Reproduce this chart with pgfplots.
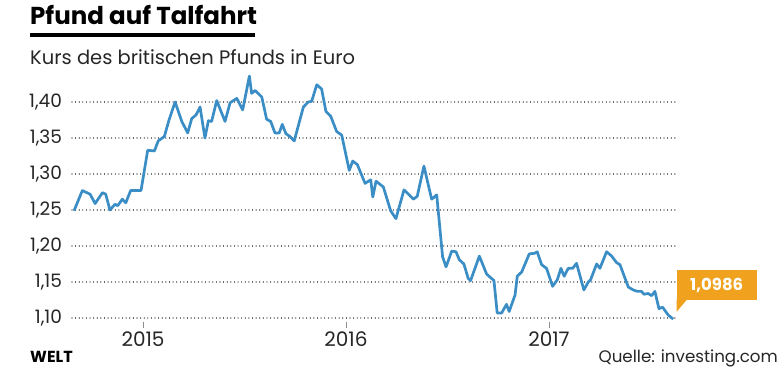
\documentclass[border=0pt]{standalone}
\usepackage{fontspec}
\setmainfont{Poppins}
\usepackage{pgfplots}
\pgfplotsset{compat=1.18}
\usepackage{pgfplotstable}
\definecolor{linie}{HTML}{3A8DC5}
\definecolor{orangebox}{HTML}{F0A21E}
\definecolor{gridc}{HTML}{444444}
\pgfplotstableread{
x y
2014.660 1.249
2014.701 1.277
2014.739 1.272
2014.764 1.259
2014.800 1.274
2014.816 1.272
2014.837 1.250
2014.862 1.258
2014.875 1.256
2014.898 1.265
2014.915 1.260
2014.939 1.277
2014.990 1.277
2015.023 1.333
2015.056 1.332
2015.075 1.346
2015.105 1.352
2015.128 1.375
2015.158 1.400
2015.191 1.373
2015.220 1.357
2015.240 1.377
2015.261 1.382
2015.281 1.393
2015.305 1.350
2015.322 1.374
2015.338 1.373
2015.363 1.402
2015.404 1.373
2015.429 1.399
2015.462 1.405
2015.491 1.389
2015.524 1.436
2015.535 1.412
2015.552 1.416
2015.585 1.407
2015.609 1.376
2015.629 1.373
2015.650 1.357
2015.671 1.357
2015.686 1.369
2015.704 1.356
2015.724 1.352
2015.745 1.346
2015.790 1.393
2015.814 1.400
2015.831 1.401
2015.856 1.424
2015.880 1.418
2015.901 1.387
2015.925 1.380
2015.954 1.359
2015.979 1.354
2016.016 1.305
2016.033 1.318
2016.056 1.313
2016.094 1.287
2016.122 1.292
2016.132 1.268
2016.148 1.290
2016.184 1.282
2016.220 1.249
2016.246 1.238
2016.286 1.278
2016.332 1.265
2016.351 1.269
2016.384 1.311
2016.422 1.265
2016.447 1.271
2016.476 1.185
2016.493 1.171
2016.521 1.193
2016.542 1.192
2016.558 1.181
2016.581 1.175
2016.602 1.155
2016.614 1.152
2016.657 1.186
2016.693 1.161
2016.729 1.152
2016.745 1.107
2016.767 1.107
2016.791 1.119
2016.804 1.109
2016.833 1.132
2016.844 1.158
2016.866 1.164
2016.903 1.189
2016.931 1.190
2016.942 1.192
2016.964 1.174
2016.988 1.169
2017.018 1.144
2017.041 1.153
2017.059 1.169
2017.075 1.158
2017.095 1.169
2017.117 1.169
2017.136 1.176
2017.172 1.139
2017.194 1.150
2017.205 1.153
2017.235 1.175
2017.251 1.169
2017.284 1.192
2017.309 1.186
2017.333 1.177
2017.350 1.174
2017.391 1.143
2017.415 1.139
2017.435 1.137
2017.456 1.137
2017.468 1.133
2017.489 1.134
2017.506 1.131
2017.522 1.137
2017.542 1.113
2017.560 1.115
2017.588 1.104
2017.612 1.0986
}\kurs
\begin{document}
\begin{tikzpicture}[x=1pt,y=1pt]
\useasboundingbox (0,0) rectangle (780,373);
\begin{axis}[
  at={(72pt,51.4pt)}, anchor=south west,
  scale only axis, width=604pt, height=248.4pt,
  xmin=2014.650, xmax=2017.626,
  ymin=1.095, ymax=1.44,
  axis line style={draw=none},
  xtick={2015,2016,2017},
  xticklabels={2015,2016,2017},
  ytick={1.10,1.15,1.20,1.25,1.30,1.35,1.40},
  yticklabels={{1,10},{1,15},{1,20},{1,25},{1,30},{1,35},{1,40}},
  yticklabel style={font=\fontsize{18.5}{22}\selectfont, text=black!85, xshift=-0.5pt},
  xticklabel style={font=\fontsize{20}{24}\selectfont, text=black!85, yshift=-1pt},
  xtick pos=bottom, tick align=outside,
  major tick length=6pt,
  x tick style={draw=black!45, line width=0.8pt},
  y tick style={draw=none},
  ymajorgrids,
  grid style={draw=gridc, line width=1.1pt, dash pattern=on 0.01pt off 3.6pt, line cap=round},
  clip=false,
]
\addplot[linie, line width=2.7pt, line join=round, no marks] table[x=x,y=y] {\kurs};
\end{axis}
% title and texts
\node[anchor=base west, inner sep=0pt, font=\fontsize{24.5}{28}\selectfont\bfseries] at (30,348) {Pfund auf Talfahrt};
\draw[line width=3.3pt] (30,338) -- (255,338);
\node[anchor=base west, inner sep=0pt, font=\fontsize{19.5}{24}\selectfont, text=black!85] at (30,308) {Kurs des britischen Pfunds in Euro};
\node[anchor=base west, inner sep=0pt, font=\fontsize{16}{18}\selectfont\bfseries] at (30,11) {WELT};
\node[anchor=base east, inner sep=0pt, font=\fontsize{16.7}{20}\selectfont, text=black!85] at (778,11) {Quelle: investing.com};
% value callout
\fill[orangebox] (676.7,73) rectangle (756.7,103);
\fill[orangebox] (676.7,73.5) -- (676.7,61.3) -- (687,73.5) -- cycle;
\node[font=\fontsize{16.5}{20}\selectfont\bfseries, text=white] at (716.7,88) {1,0986};
\end{tikzpicture}
\end{document}
